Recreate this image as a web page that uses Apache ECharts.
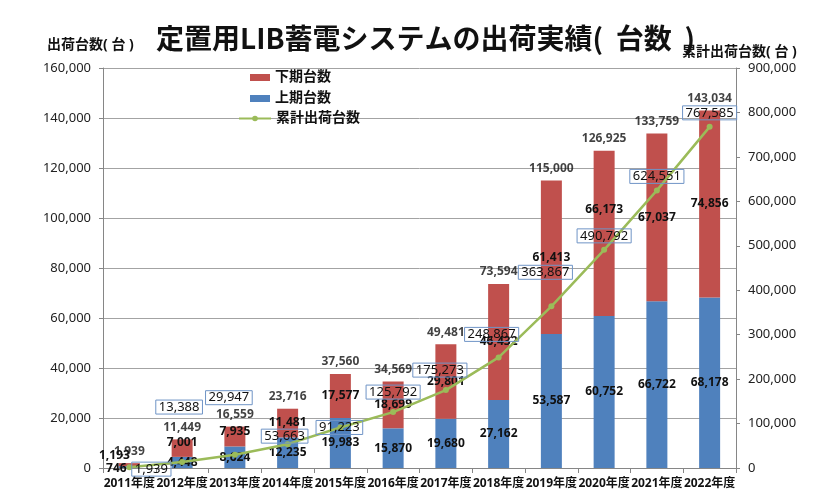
<!DOCTYPE html>
<html>
<head>
<meta charset="utf-8">
<script src="https://cdn.jsdelivr.net/npm/echarts@6/dist/echarts.min.js"></script>
<style>
html,body{margin:0;padding:0;background:#fff;}
#chart{width:830px;height:504px;}
</style>
</head>
<body>
<div id="chart"></div>
<script>
// ---- data ----
var categories = ['2011年度','2012年度','2013年度','2014年度','2015年度','2016年度','2017年度','2018年度','2019年度','2020年度','2021年度','2022年度'];
var firstHalf  = [746, 4448, 8624, 12235, 19983, 15870, 19680, 27162, 53587, 60752, 66722, 68178];   // 上期台数
var secondHalf = [1193, 7001, 7935, 11481, 17577, 18699, 29801, 46432, 61413, 66173, 67037, 74856]; // 下期台数
var cumulative = [1939, 13388, 29947, 53663, 91223, 125792, 175273, 248867, 363867, 490792, 624551, 767585]; // 累計出荷台数
var leftTicks  = {min: 0, max: 160000, interval: 20000};
var rightTicks = {min: 0, max: 900000, interval: 100000};

// ---- label layout tweaks (style, not data) ----
var cumOffsets = [[22,2],[-3,-55],[-6,-57],[-3,-8],[-1,0],[0,-20],[-6,-20],[-7,-23],[-6,-34],[0,-14],[0,-14],[0,-14]];
var redOffsets = {0:[-15,-9], 1:[0,-6], 2:[0,-5], 9:[0,-24]};
var blueOffsets = {0:[-13,2]};

var FONT = "'Noto Sans', 'Noto Sans CJK JP', sans-serif";
function fmt(v){ return Number(v).toLocaleString('en-US'); }

var totals = firstHalf.map(function(v,i){ return v + secondHalf[i]; });

var lblBase = {show:true, fontFamily:FONT, fontSize:12, fontWeight:'bold', color:'#111',
  formatter:function(p){ return fmt(p.value); }};

function barData(arr, offs){
  return arr.map(function(v,i){
    var d = {value:v};
    if (offs[i]) d.label = {offset: offs[i]};
    return d;
  });
}

var option = {
  animation:false,
  backgroundColor:'#fff',
  title:[
    {text:'定置用LIB蓄電システムの出荷実績(  台数  )', left:156, top:24, padding:0,
     textStyle:{fontFamily:"'Noto Sans CJK JP', sans-serif", fontSize:28, fontWeight:'bold', color:'#111'}},
    {text:'出荷台数( 台 )', left:47, top:38, padding:0,
     textStyle:{fontFamily:FONT, fontSize:14, fontWeight:'bold', color:'#111'}},
    {text:'累計出荷台数( 台 )', left:682, top:45, padding:0,
     textStyle:{fontFamily:FONT, fontSize:14, fontWeight:'bold', color:'#111'}}
  ],
  legend:[
    {orient:'vertical', left:250, top:70, itemWidth:20, itemHeight:7, itemGap:6, icon:'rect',
     padding:0, data:['下期台数','上期台数'],
     textStyle:{fontFamily:FONT, fontSize:14, fontWeight:'bold', color:'#111', lineHeight:15}},
    {orient:'vertical', left:238, top:111, itemWidth:32, itemHeight:7, padding:0,
     data:['累計出荷台数'],
     textStyle:{fontFamily:FONT, fontSize:14, fontWeight:'bold', color:'#111', lineHeight:15}}
  ],
  grid:{left:103, right:94, top:68, bottom:36, containLabel:false},
  xAxis:{
    type:'category', data:categories,
    axisLine:{lineStyle:{color:'#868686'}},
    axisTick:{show:true, alignWithLabel:false, length:5, lineStyle:{color:'#868686'}},
    axisLabel:{fontFamily:FONT, fontSize:12, fontWeight:'bold', color:'#111', margin:10, interval:0}
  },
  yAxis:[
    {type:'value', min:leftTicks.min, max:leftTicks.max, interval:leftTicks.interval,
     axisLine:{show:true, lineStyle:{color:'#868686'}},
     axisTick:{show:true, length:4, lineStyle:{color:'#868686'}},
     splitLine:{show:true, lineStyle:{color:'#a3a3a3'}},
     axisLabel:{fontFamily:FONT, fontSize:13, color:'#222', margin:12, formatter:fmt}},
    {type:'value', min:rightTicks.min, max:rightTicks.max, interval:rightTicks.interval,
     position:'right',
     axisLine:{show:true, lineStyle:{color:'#868686'}},
     axisTick:{show:true, length:4, lineStyle:{color:'#868686'}},
     splitLine:{show:false},
     axisLabel:{fontFamily:FONT, fontSize:13, color:'#222', margin:12, formatter:fmt}}
  ],
  series:[
    {name:'上期台数', type:'bar', stack:'s', barWidth:21, yAxisIndex:0,
     itemStyle:{color:'#4F81BD'},
     label:Object.assign({}, lblBase, {position:'inside'}),
     data:barData(firstHalf, blueOffsets)},
    {name:'下期台数', type:'bar', stack:'s', barWidth:21, yAxisIndex:0,
     itemStyle:{color:'#C0504D'},
     label:Object.assign({}, lblBase, {position:'inside'}),
     data:barData(secondHalf, redOffsets)},
    {name:'合計', type:'scatter', yAxisIndex:0, symbolSize:0.1, z:5,
     label:Object.assign({}, lblBase, {position:'top', distance:6}),
     data:totals},
    {name:'累計出荷台数', type:'line', yAxisIndex:1, z:6,
     lineStyle:{color:'#9BBB59', width:2.5},
     itemStyle:{color:'#9BBB59'},
     symbol:'circle', symbolSize:6, showAllSymbol:true,
     label:{show:true, position:'inside', fontFamily:FONT, fontSize:13, color:'#111',
       borderColor:'#6F94C6', borderWidth:1, padding:[1,3,0,3],
       formatter:function(p){ return fmt(p.value); }},
     data:cumulative.map(function(v,i){ return {value:v, label:{offset:cumOffsets[i]}}; })}
  ]
};

var chart = echarts.init(document.getElementById('chart'), null, {renderer:'canvas'});
chart.setOption(option);
</script>
</body>
</html>
